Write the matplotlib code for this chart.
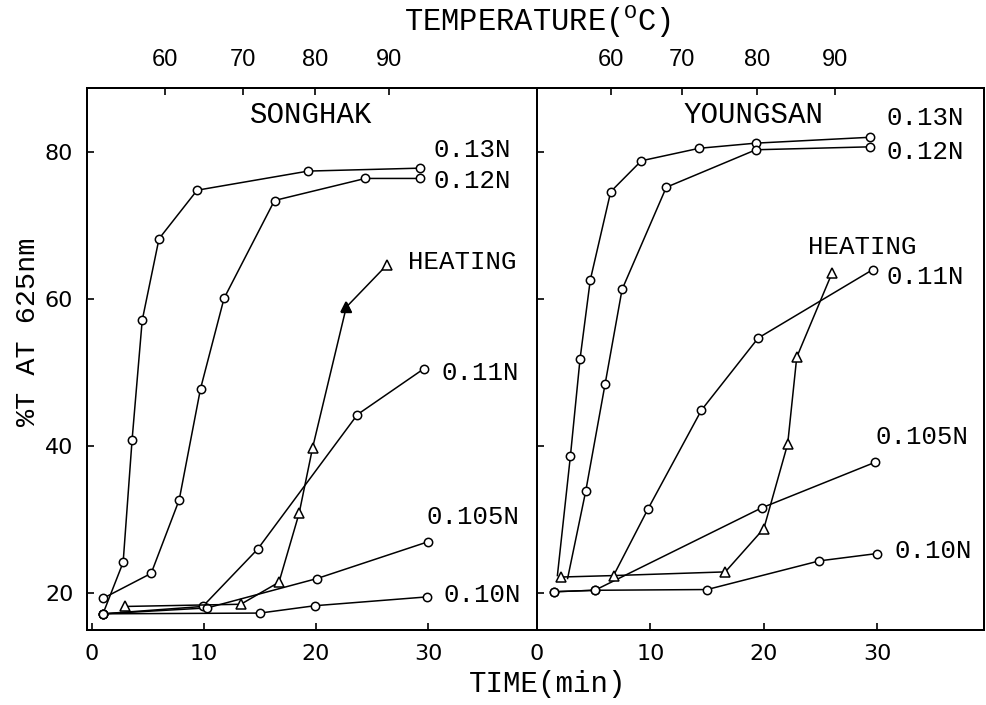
import matplotlib
matplotlib.use("Agg")
import matplotlib.pyplot as plt

# ---- data: time (min) vs %T at 625nm ----
# SONGHAK (left panel)
song_t_013 = [1, 2.8, 3.6, 4.5, 6.0, 9.4, 19.3, 29.3]
song_y_013 = [17.2, 24.2, 40.9, 57.1, 68.2, 74.8, 77.4, 77.8]
song_t_012 = [1, 5.3, 7.8, 9.7, 11.8, 16.3, 24.4, 29.3]
song_y_012 = [19.3, 22.7, 32.7, 47.8, 60.1, 73.4, 76.4, 76.4]
song_t_011 = [1, 9.9, 14.8, 23.7, 29.6]
song_y_011 = [17.2, 18.2, 26.0, 44.3, 50.5]
song_t_0105 = [1, 10.3, 20.1, 30.0]
song_y_0105 = [17.2, 18.0, 22.0, 27.0]
song_t_010 = [1, 15.0, 19.9, 29.9]
song_y_010 = [17.2, 17.3, 18.3, 19.5]
song_t_heat = [3.0, 13.3, 16.7, 18.5, 19.7, 22.7, 26.3]
song_y_heat = [18.2, 18.5, 21.5, 30.9, 39.8, 58.9, 64.6]

# YOUNGSAN (right panel)
young_t_013 = [1.8, 2.95, 3.8, 4.7, 6.5, 9.2, 14.3, 19.3, 29.4]
young_y_013 = [22.4, 38.7, 51.9, 62.6, 74.6, 78.8, 80.5, 81.2, 82.0]
young_t_012 = [2.7, 4.3, 6.0, 7.5, 11.4, 19.3, 29.4]
young_y_012 = [22.0, 33.9, 48.4, 61.3, 75.2, 80.3, 80.7]
young_t_011 = [6.75, 9.8, 14.5, 19.5, 29.6]
young_y_011 = [22.4, 31.5, 44.9, 54.7, 64.0]
young_t_0105 = [1.5, 5.1, 19.8, 29.8]
young_y_0105 = [20.2, 20.4, 31.6, 37.8]
young_t_010 = [1.5, 5.1, 15.0, 24.9, 30.0]
young_y_010 = [20.2, 20.4, 20.5, 24.4, 25.4]
young_t_heat = [2.1, 6.75, 16.6, 20.0, 22.1, 22.9, 26.0]
young_y_heat = [22.2, 22.4, 22.9, 28.8, 40.3, 52.1, 63.5]

# temperature scale on top (time position -> temperature label)
temp_labels = ["60", "70", "80", "90"]
song_temp_t = [6.5, 13.5, 19.9, 26.5]
young_temp_t = [6.5, 12.8, 19.4, 26.3]

mono = "Liberation Mono"
plt.rcParams["mathtext.fontset"] = "custom"
plt.rcParams["mathtext.rm"] = mono

fig = plt.figure(figsize=(9.86, 7.05), dpi=100)
ax1 = fig.add_axes([0.0885, 0.1064, 0.456, 0.7688])
ax2 = fig.add_axes([0.5446, 0.1064, 0.4533, 0.7688])


def draw_panel(ax, curves, heat_t, heat_y, temp_t, xlim):
    # concentration curves, open circles
    for t, y, skip_first in curves:
        ax.plot(t, y, color="black", lw=1.1, zorder=2)
        start = 1 if skip_first else 0
        ax.plot(t[start:], y[start:], ls="none", marker="o", ms=6,
                mfc="white", mec="black", mew=1.1, zorder=3)
    # heating curve, open triangles
    ax.plot(heat_t, heat_y, color="black", lw=1.1, marker="^", ms=7,
            mfc="white", mec="black", mew=1.1, zorder=3)
    ax.set_xlim(*xlim)
    ax.set_ylim(15.0, 88.7)
    ax.set_xticks([0, 10, 20, 30])
    ax.set_yticks([20, 40, 60, 80])
    ax.tick_params(direction="in", length=5, width=1.2, labelsize=16, pad=10)
    for lab in ax.get_xticklabels() + ax.get_yticklabels():
        lab.set_family("DejaVu Sans")
    for s in ax.spines.values():
        s.set_linewidth(1.4)
    # top axis with temperatures
    top = ax.twiny()
    top.set_xlim(ax.get_xlim())
    top.set_xticks(temp_t)
    top.set_xticklabels(temp_labels, family=["Liberation Sans Narrow", "Liberation Sans"], fontsize=17)
    top.tick_params(direction="in", length=5, width=1.2, pad=12)
    for s in top.spines.values():
        s.set_linewidth(1.4)
    return top


draw_panel(ax1,
           [(song_t_013, song_y_013, False), (song_t_012, song_y_012, False),
            (song_t_011, song_y_011, False), (song_t_0105, song_y_0105, False),
            (song_t_010, song_y_010, False)],
           song_t_heat, song_y_heat, song_temp_t, (-0.4, 39.7))
# filled arrow-like triangle on the SONGHAK heating curve
ax1.plot(song_t_heat[5], song_y_heat[5], marker="^", ms=7, color="black", zorder=4)

draw_panel(ax2,
           [(young_t_013, young_y_013, True), (young_t_012, young_y_012, True),
            (young_t_011, young_y_011, True), (young_t_0105, young_y_0105, False),
            (young_t_010, young_y_010, False)],
           young_t_heat, young_y_heat, young_temp_t, (0.0, 39.4))
ax2.tick_params(axis="y", labelleft=False)

# curve labels
lab_kw = dict(family=mono, fontsize=18.5, va="center", ha="left")
for txt, x, y in [("0.13N", 30.5, 80.3), ("0.12N", 30.5, 76.0), ("HEATING", 28.2, 65.0),
                  ("0.11N", 31.2, 49.9), ("0.105N", 29.9, 30.3), ("0.10N", 31.4, 19.7)]:
    ax1.text(x, y, txt, **lab_kw)
for txt, x, y in [("0.13N", 30.8, 84.6), ("0.12N", 30.8, 80.0), ("HEATING", 23.9, 67.1),
                  ("0.11N", 30.8, 63.0), ("0.105N", 29.8, 41.2), ("0.10N", 31.5, 25.8)]:
    ax2.text(x, y, txt, **lab_kw)

ax1.text(19.6, 85.0, "SONGHAK", family=mono, fontsize=21, ha="center", va="center")
ax2.text(19.1, 85.0, "YOUNGSAN", family=mono, fontsize=21, ha="center", va="center")

# axis titles
fig.text(0.545, 0.970, "TEMPERATURE($^{\\mathrm{O}}$C)", family=mono, fontsize=22,
         ha="center", va="center")
fig.text(0.555, 0.03, "TIME(min)", family=mono, fontsize=21, ha="center", va="center")
fig.text(0.028, 0.53, "%T AT 625nm", family=mono, fontsize=20.5, rotation=90,
         ha="center", va="center")

fig.savefig("out.png", dpi=100)
